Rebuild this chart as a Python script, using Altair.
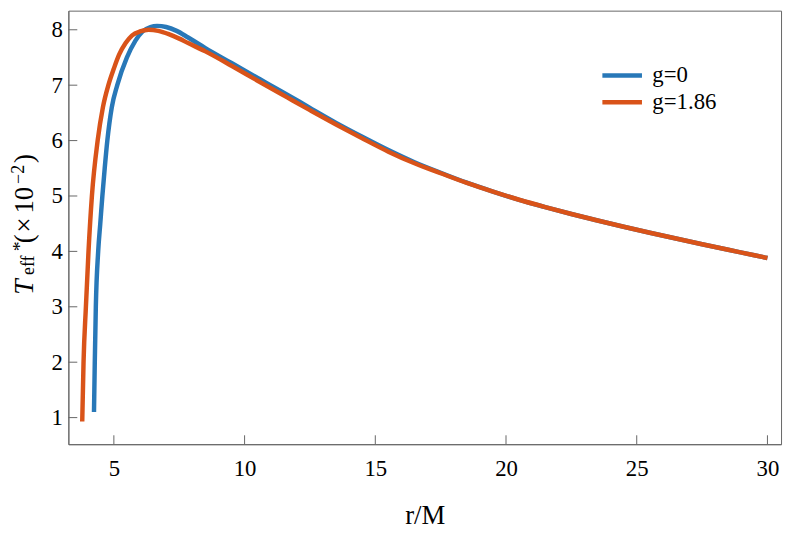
import altair as alt
import pandas as pd

# ---- data ----
r_g0 = [4.24, 4.27, 4.31, 4.40, 4.48, 4.56, 4.65, 4.75, 4.92, 5.13, 5.50, 5.82, 6.10,
        6.40, 6.65, 7.00, 7.40, 7.84, 8.50, 9.50, 10.5, 11.63, 12.5, 13.5, 14.5, 15.5,
        16.5, 17.5, 18.5, 19.5, 20.5, 21.5, 22.5, 23.5, 24.5, 25.5, 26.5, 27.5, 28.5,
        29.5, 30.0]
t_g0 = [1.10, 2.00, 3.00, 4.00, 4.50, 5.00, 5.50, 6.00, 6.60, 7.00, 7.50, 7.80, 7.97,
        8.05, 8.07, 8.05, 7.98, 7.86, 7.67, 7.40, 7.13, 6.83, 6.59, 6.32, 6.07, 5.83,
        5.61, 5.42, 5.24, 5.08, 4.93, 4.80, 4.675, 4.557, 4.445, 4.337, 4.232, 4.129,
        4.029, 3.931, 3.88]

r_g186 = [3.79, 3.84, 3.93, 4.03, 4.16, 4.38, 4.58, 4.79, 5.00, 5.20, 5.45, 5.70, 6.00,
          6.33, 6.70, 7.10, 7.50, 7.84, 8.50, 9.50, 10.5, 11.63, 12.5, 13.5, 14.5, 15.5,
          16.5, 17.5, 18.5, 19.5, 20.5, 21.5, 22.5, 23.5, 24.5, 25.5, 26.5, 27.5, 28.5,
          29.5, 30.0]
t_g186 = [0.93, 2.00, 3.00, 4.00, 5.00, 6.00, 6.60, 7.00, 7.30, 7.55, 7.76, 7.90, 7.97,
          8.00, 7.98, 7.92, 7.84, 7.76, 7.61, 7.35, 7.08, 6.78, 6.55, 6.29, 6.04, 5.80,
          5.59, 5.41, 5.235, 5.078, 4.932, 4.80, 4.675, 4.557, 4.445, 4.337, 4.232,
          4.129, 4.029, 3.931, 3.88]

series_names = ["g=0", "g=1.86"]
series_colors = ["#2878b8", "#d95319"]
x_ticks = [5, 10, 15, 20, 25, 30]
y_ticks = [1, 2, 3, 4, 5, 6, 7, 8]
x_title = "r/M"
y_title_parts = ["T", "eff", "*", "(", "×", "10", "−2", ")"]

X_DOMAIN = [3.26, 30.52]
Y_DOMAIN = [0.52, 8.345]
W, H = 720, 438
FONT = "Liberation Serif"
FRAME = "#666666"

df = pd.concat([
    pd.DataFrame({"r": r_g0, "T": t_g0, "s": series_names[0]}),
    pd.DataFrame({"r": r_g186, "T": t_g186, "s": series_names[1]}),
])

xs = alt.Scale(domain=X_DOMAIN, nice=False, zero=False)
ys = alt.Scale(domain=Y_DOMAIN, nice=False, zero=False)

lines = alt.Chart(df).mark_line(strokeWidth=4.5, clip=True, interpolate="monotone").encode(
    x=alt.X("r:Q", scale=xs,
            axis=alt.Axis(values=x_ticks, ticks=False, labelPadding=14, grid=False,
                          title=x_title, titlePadding=22, titleFontSize=27,
                          titleFont=FONT, titleFontWeight="normal", titleColor="black")),
    y=alt.Y("T:Q", scale=ys,
            axis=alt.Axis(values=y_ticks, ticks=False, labelPadding=6, grid=False,
                          title=None)),
    color=alt.Color("s:N",
                    scale=alt.Scale(domain=series_names, range=series_colors),
                    legend=alt.Legend(title=None, orient="none", legendX=547, legendY=53,
                                      symbolType="M-2,0H2", symbolSize=400,
                                      symbolStrokeWidth=4.5, labelFont=FONT,
                                      labelFontSize=23, labelOffset=18, rowPadding=2,
                                      labelColor="black", padding=0)),
)

xtick_df = pd.DataFrame({"v": x_ticks})
ytick_df = pd.DataFrame({"v": y_ticks})

xtick_rules = alt.Chart(xtick_df).mark_rule(color=FRAME, strokeWidth=1).encode(
    x=alt.X("v:Q", scale=xs), y=alt.value(H), y2=alt.value(H - 9))
ytick_rules = alt.Chart(ytick_df).mark_rule(color=FRAME, strokeWidth=1).encode(
    y=alt.Y("v:Q", scale=ys), x=alt.value(0), x2=alt.value(9))

# y title pieces: (size, style, bottom page-y, baseline page-x)
piece_layout = [
    (28, "italic", 295, 33),
    (18, "normal", 275, 34),
    (20, "normal", 251, 26),
    (27, "normal", 243, 33),
    (27, "normal", 232, 33),
    (27, "normal", 213, 33),
    (18, "normal", 183, 24),
    (27, "normal", 162, 33),
]
title_layers = []
for txt, (sz, style, by, bx) in zip(y_title_parts, piece_layout):
    title_layers.append(
        alt.Chart(pd.DataFrame({"t": [txt]})).mark_text(
            angle=270, align="left", baseline="alphabetic", font=FONT,
            fontSize=sz, fontStyle=style, color="black"
        ).encode(text="t:N", x=alt.value(bx - 69), y=alt.value(by - 8))
    )

chart = alt.layer(lines, xtick_rules, ytick_rules, *title_layers).properties(
    width=W, height=H,
    autosize=alt.AutoSizeParams(type="none"),
    padding={"left": 61, "top": 0, "right": 4, "bottom": 84},
).configure_view(stroke=FRAME, strokeWidth=1).configure_axis(
    labelFont=FONT, labelFontSize=23, labelColor="black", domainColor=FRAME,
)

chart.save("out.html", embed_options={"renderer": "svg", "actions": False})
